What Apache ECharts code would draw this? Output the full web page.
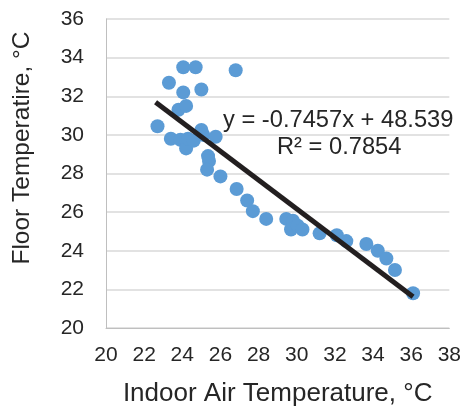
<!DOCTYPE html>
<html>
<head>
<meta charset="utf-8">
<script src="https://cdn.jsdelivr.net/npm/echarts@6/dist/echarts.min.js"></script>
<style>
html, body { margin: 0; padding: 0; background: #fff; }
#chart { width: 464px; height: 412px; }
</style>
</head>
<body>
<div id="chart"></div>
<script>
// measured points: indoor air temp (x) vs floor temp (y)
const airTemp = [22.7, 23.3, 23.4, 23.8, 23.9, 24.05, 24.05, 24.2, 24.2, 24.3,
  24.6, 24.7, 25.0, 25.0, 25.1, 25.75, 25.35, 25.4, 25.3, 26.0,
  26.8, 26.85, 27.4, 27.7, 28.4, 29.45, 29.8, 29.7, 30.05, 30.3,
  31.2, 32.1, 32.6, 33.65, 34.25, 34.7, 35.15, 36.1];
const floorTemp = [30.45, 32.7, 29.8, 31.3, 29.75, 33.5, 32.2, 31.5, 29.3, 29.8,
  29.7, 33.5, 32.35, 30.25, 30.0, 29.9, 28.9, 28.65, 28.2, 27.85,
  33.35, 27.2, 26.6, 26.05, 25.65, 25.65, 25.55, 25.1, 25.3, 25.1,
  24.9, 24.8, 24.5, 24.35, 24.0, 23.6, 23.0, 21.8];

// linear trendline
const slope = -0.7457;
const intercept = 48.539;
const rSquared = 0.7854;
const trendX = [22.6, 36.1];

const font = 'Liberation Sans, Arial, sans-serif';
const textColor = '#262626';

const points = airTemp.map((x, i) => [x, floorTemp[i]]);
const trend = trendX.map(x => [x, slope * x + intercept]);

const myChart = echarts.init(document.getElementById('chart'));
const option = {
  animation: false,
  grid: { left: 106, right: 14, top: 19, bottom: 83 },
  xAxis: {
    type: 'value',
    min: 20, max: 38, interval: 2,
    axisLine: { show: true, lineStyle: { color: '#bfbfbf', width: 1 } },
    axisTick: { show: false },
    splitLine: { show: false },
    axisLabel: { color: textColor, fontSize: 21, fontFamily: font, margin: 17 },
    name: 'Indoor Air Temperature, °C',
    nameLocation: 'middle',
    nameGap: 53,
    nameTextStyle: { color: textColor, fontSize: 26, fontFamily: font }
  },
  yAxis: {
    type: 'value',
    min: 20, max: 36, interval: 2,
    axisLine: { show: true, lineStyle: { color: '#bfbfbf', width: 1 } },
    axisTick: { show: false },
    splitLine: { show: true, lineStyle: { color: '#d9d9d9', width: 1.5 } },
    axisLabel: { color: textColor, fontSize: 21, fontFamily: font, margin: 22 }
  },
  graphic: [
    {
      type: 'text', x: 22.5, y: 148, rotation: Math.PI / 2,
      style: {
        text: 'Floor Temperatire, °C', fill: textColor, fontSize: 24.5, fontFamily: font,
        align: 'center', verticalAlign: 'middle'
      }
    },
    {
      type: 'text', x: 223, y: 120,
      style: {
        text: 'y = ' + slope + 'x + ' + intercept, fill: textColor, fontSize: 23.7, fontFamily: font,
        align: 'left', verticalAlign: 'middle'
      }
    },
    {
      type: 'text', x: 277, y: 147,
      style: {
        text: 'R² = ' + rSquared, fill: textColor, fontSize: 23.7, fontFamily: font,
        align: 'left', verticalAlign: 'middle'
      }
    }
  ],
  series: [
    {
      type: 'scatter',
      data: points,
      symbolSize: 14,
      itemStyle: { color: '#5b9bd5', opacity: 1 },
      z: 2
    },
    {
      type: 'line',
      data: trend,
      showSymbol: false,
      lineStyle: { color: '#231f20', width: 5 },
      z: 3
    }
  ]
};
myChart.setOption(option);
</script>
</body>
</html>
